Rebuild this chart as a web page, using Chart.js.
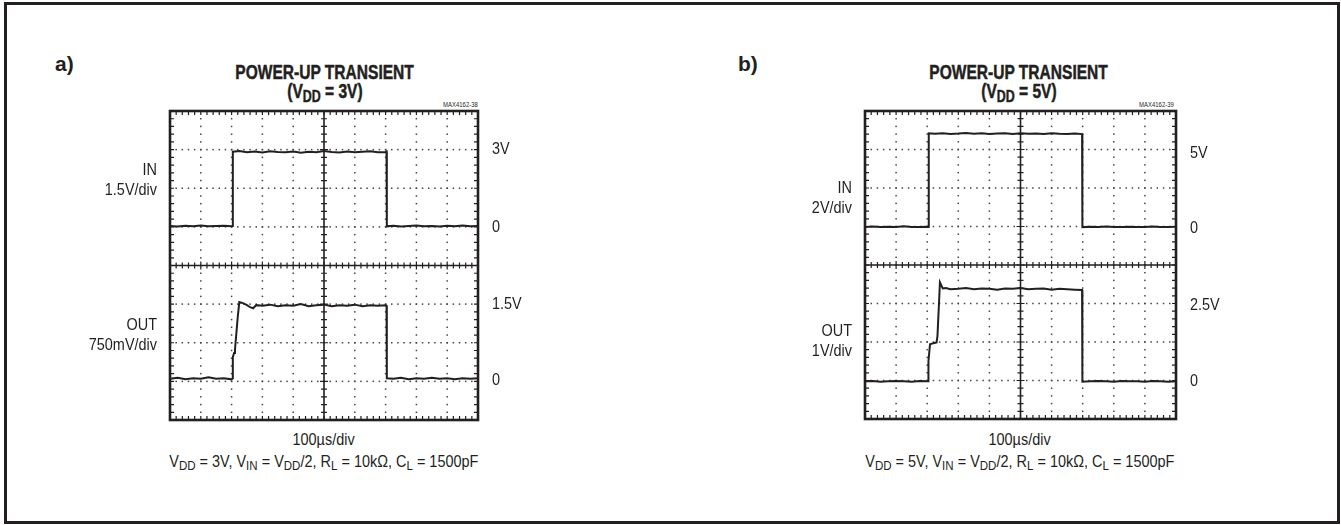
<!DOCTYPE html>
<html><head><meta charset="utf-8">
<script src="https://cdn.jsdelivr.net/npm/chart.js@4.4.1/dist/chart.umd.min.js"></script>
<style>
html,body{margin:0;padding:0;background:#fff;width:1341px;height:525px;overflow:hidden;}
#frame{position:absolute;left:4px;top:2px;width:1336px;height:522px;box-sizing:border-box;border:3px solid #231f20;}
.t{position:absolute;font-family:"Liberation Sans",Arial,sans-serif;color:#231f20;white-space:nowrap;text-align:center;}
.t span{display:inline-block;transform-origin:50% 50%;}
.ttl{font-weight:bold;font-size:21px;line-height:20px;-webkit-text-stroke:0.5px #231f20;}
.ttl span{transform:scaleX(0.74);}
.lbl{font-weight:bold;font-size:21px;line-height:22px;text-align:left;}
.sm{font-size:7px;line-height:8px;}
.sm span{transform:scaleX(0.85);}
.cap{font-size:17px;line-height:18px;}
.cap span{transform:scaleX(0.85);}
.sub{font-size:17px;line-height:18px;}
.sub span{transform:scaleX(0.85);}
sub{font-size:0.8em;vertical-align:-0.25em;line-height:0;}
canvas{position:absolute;}
</style></head>
<body>
<div id="frame"></div>
<div class="t lbl" style="left:55px;top:53px;">a)</div>
<div class="t lbl" style="left:738px;top:53px;">b)</div>
<div class="t ttl" style="left:175px;top:62px;width:300px;"><span>POWER-UP TRANSIENT</span></div>
<div class="t ttl" style="left:175px;top:81px;width:300px;"><span>(V<sub>DD</sub> = 3V)</span></div>
<div class="t ttl" style="left:869px;top:62px;width:300px;"><span>POWER-UP TRANSIENT</span></div>
<div class="t ttl" style="left:869px;top:81px;width:300px;"><span>(V<sub>DD</sub> = 5V)</span></div>
<div class="t sm" style="left:410px;top:101px;width:100px;"><span>MAX4162-38</span></div>
<div class="t sm" style="left:1106px;top:101px;width:100px;"><span>MAX4162-39</span></div>
<div class="t cap" style="left:224px;top:431px;width:200px;"><span>100µs/div</span></div>
<div class="t cap" style="left:920px;top:431px;width:200px;"><span>100µs/div</span></div>
<div class="t sub" style="left:124px;top:453px;width:400px;"><span>V<sub>DD</sub> = 3V, V<sub>IN</sub> = V<sub>DD</sub>/2, R<sub>L</sub> = 10kΩ, C<sub>L</sub> = 1500pF</span></div>
<div class="t sub" style="left:820px;top:453px;width:400px;"><span>V<sub>DD</sub> = 5V, V<sub>IN</sub> = V<sub>DD</sub>/2, R<sub>L</sub> = 10kΩ, C<sub>L</sub> = 1500pF</span></div>
<canvas id="ca" width="500" height="345" style="left:60px;top:95px;"></canvas>
<canvas id="cb" width="500" height="345" style="left:760px;top:95px;"></canvas>
<script>
// ---- Panel a (VDD = 3V): time in divisions (100us/div), volts ----
const aInTime  = [0,0.25,0.5,0.75,1,1.25,1.5,1.75,2.0,2.03, 2.04,2.25,2.5,2.75,3,3.25,3.5,3.75,4,4.25,4.5,4.75,5,5.25,5.5,5.75,6,6.25,6.5,6.75,7.0,7.03, 7.04,7.25,7.5,7.75,8,8.25,8.5,8.75,9,9.25,9.5,9.75,10];
const aInVolts = [0.03,0.01,0.04,0.02,0.05,0.02,0.03,0.04,0.02,0.03, 2.92,2.95,2.90,2.93,2.89,2.94,2.91,2.90,2.93,2.88,2.92,2.90,2.95,2.91,2.89,2.93,2.90,2.92,2.94,2.90,2.91,2.93, 0.02,0.04,0.01,0.03,0.05,0.02,0.03,0.01,0.04,0.02,0.05,0.02,0.03];
const aOutTime  = [0,0.25,0.5,0.75,1,1.25,1.5,1.75,2.0,2.03, 2.04,2.08,2.11,2.15,2.2,2.25, 2.37,2.5,2.6,2.7,2.8, 3,3.25,3.5,3.75,4,4.25,4.5,4.75,5,5.25,5.5,5.75,6,6.25,6.5,6.75,7.0,7.03, 7.04,7.25,7.5,7.75,8,8.25,8.5,8.75,9,9.25,9.5,9.75,10];
const aOutVolts = [0.05,0.07,0.04,0.06,0.05,0.08,0.05,0.06,0.04,0.06, 0.47,0.55,0.62,0.9,1.25,1.54, 1.52,1.48,1.44,1.42,1.48, 1.47,1.49,1.46,1.48,1.47,1.50,1.46,1.48,1.49,1.46,1.48,1.47,1.49,1.46,1.48,1.47,1.48,1.47, 0.06,0.05,0.07,0.04,0.06,0.05,0.07,0.05,0.06,0.04,0.06,0.05,0.06];
const aVoltsPerDiv = [1.5, 0.75];          // IN, OUT
const aLevelLabels = ['3V','0','1.5V','0'];
const aChannelLabels = [['IN','1.5V/div'],['OUT','750mV/div']];

// ---- Panel b (VDD = 5V) ----
const bInTime  = [0,0.25,0.5,0.75,1,1.25,1.5,1.75,2.0,2.04, 2.05,2.25,2.5,2.75,3,3.25,3.5,3.75,4,4.25,4.5,4.75,5,5.25,5.5,5.75,6,6.25,6.5,6.75,6.98, 6.99,7.25,7.5,7.75,8,8.25,8.5,8.75,9,9.25,9.5,9.75,10];
const bInVolts = [-0.02,0.0,-0.03,-0.01,-0.02,0.01,-0.02,-0.03,-0.01,-0.02, 4.84,4.82,4.85,4.81,4.83,4.86,4.82,4.84,4.80,4.83,4.85,4.81,4.84,4.82,4.83,4.80,4.84,4.82,4.81,4.83,4.80, -0.03,-0.01,-0.02,0.0,-0.03,-0.02,-0.01,-0.03,-0.02,0.0,-0.02,-0.03,-0.01];
const bOutTime  = [0,0.25,0.5,0.75,1,1.25,1.5,1.75,2.0,2.03, 2.04,2.09,2.2,2.3,2.33,2.41,2.5,2.6,2.75, 3,3.25,3.5,3.75,4,4.25,4.5,4.75,5,5.25,5.5,5.75,6,6.25,6.5,6.75,6.98, 6.99,7.25,7.5,7.75,8,8.25,8.5,8.75,9,9.25,9.5,9.75,10];
const bOutVolts = [-0.02,-0.01,-0.03,-0.02,-0.01,-0.02,-0.03,-0.01,-0.02,-0.02, 0.5,0.94,0.97,0.99,1.15,2.55,2.39,2.40,2.37, 2.38,2.40,2.37,2.39,2.38,2.36,2.39,2.38,2.40,2.37,2.38,2.39,2.36,2.38,2.37,2.36,2.35, -0.03,-0.02,-0.01,-0.02,-0.03,-0.01,-0.02,-0.02,-0.03,-0.01,-0.02,-0.03,-0.02];
const bVoltsPerDiv = [2, 1];
const bLevelLabels = ['5V','0','2.5V','0'];
const bChannelLabels = [['IN','2V/div'],['OUT','1V/div']];

// screen divisions: 10 horizontal, 8 vertical; IN zero 5 div above bottom, OUT zero 1 div above bottom
const H_DIVS = 10, V_DIVS = 8, IN_ZERO_DIV = 5, OUT_ZERO_DIV = 1;
const FONT = '"Liberation Sans", Arial, sans-serif';
const NARROW = 0.85;
const INK = '#231f20';

const zip = (t, v) => t.map((x, i) => ({x, y: v[i]}));

function narrowText(ctx, s, x, y) {
  ctx.save();
  ctx.translate(x, y);
  ctx.scale(NARROW, 1);
  ctx.fillText(s, 0, 0);
  ctx.restore();
}

const scopeGrid = {
  id: 'scopeGrid',
  beforeDatasetsDraw(chart) {
    const ctx = chart.ctx, xs = chart.scales.x, ys = chart.scales.yDiv, a = chart.chartArea;
    ctx.save();
    ctx.fillStyle = '#444';
    for (let i = 1; i < H_DIVS; i++) {
      if (i === H_DIVS / 2) continue;
      const px = xs.getPixelForValue(i);
      for (let j = 0; j <= V_DIVS * 5; j++) {
        const py = ys.getPixelForValue(j * 0.2);
        ctx.fillRect(px - 0.75, py - 0.75, 1.5, 1.5);
      }
    }
    for (let k = 1; k < V_DIVS; k++) {
      if (k === V_DIVS / 2) continue;
      const py = ys.getPixelForValue(k);
      for (let j = 0; j <= H_DIVS * 5; j++) {
        const px = xs.getPixelForValue(j * 0.2);
        ctx.fillRect(px - 0.75, py - 0.75, 1.5, 1.5);
      }
    }
    ctx.strokeStyle = INK;
    const cx = xs.getPixelForValue(H_DIVS / 2), cy = ys.getPixelForValue(V_DIVS / 2);
    ctx.lineWidth = 1.6;
    ctx.beginPath();
    ctx.moveTo(cx, a.top); ctx.lineTo(cx, a.bottom);
    ctx.moveTo(a.left, cy); ctx.lineTo(a.right, cy);
    ctx.stroke();
    ctx.lineWidth = 1.2;
    ctx.beginPath();
    for (let j = 0; j <= V_DIVS * 5; j++) {
      const py = ys.getPixelForValue(j * 0.2), L = (j % 5 === 0) ? 4 : 3;
      ctx.moveTo(cx - L, py); ctx.lineTo(cx + L, py);
      ctx.moveTo(a.left, py); ctx.lineTo(a.left + 4, py);
      ctx.moveTo(a.right, py); ctx.lineTo(a.right - 4, py);
    }
    for (let j = 0; j <= H_DIVS * 5; j++) {
      const px = xs.getPixelForValue(j * 0.2), L = (j % 5 === 0) ? 4 : 3;
      ctx.moveTo(px, cy - L); ctx.lineTo(px, cy + L);
      ctx.moveTo(px, a.top); ctx.lineTo(px, a.top + 4);
      ctx.moveTo(px, a.bottom); ctx.lineTo(px, a.bottom - 4);
    }
    ctx.stroke();
    ctx.lineWidth = 2.6;
    ctx.strokeRect(a.left, a.top, a.right - a.left, a.bottom - a.top);
    ctx.restore();
  },
  afterDraw(chart, args, opts) {
    const ctx = chart.ctx, ys = chart.scales.yDiv, a = chart.chartArea;
    ctx.save();
    ctx.fillStyle = INK;
    ctx.font = '17px ' + FONT;
    ctx.textBaseline = 'middle';
    ctx.textAlign = 'left';
    opts.levels.forEach((s, i) => narrowText(ctx, s, a.right + 14, ys.getPixelForValue(opts.levelDivs[i])));
    ctx.textAlign = 'right';
    opts.channels.forEach((pair, i) => {
      const c = ys.getPixelForValue(opts.channelDivs[i]);
      narrowText(ctx, pair[0], a.left - 13, c - 10);
      narrowText(ctx, pair[1], a.left - 13, c + 10);
    });
    ctx.restore();
  }
};

function makeScope(id, inT, inV, outT, outV, vpd, levels, levelDivs, channels, channelDivs, pad) {
  const trace = {borderColor: INK, borderWidth: 2, pointRadius: 0, tension: 0, fill: false};
  return new Chart(document.getElementById(id), {
    type: 'line',
    data: {datasets: [
      Object.assign({label: 'IN', data: zip(inT, inV), yAxisID: 'yIn'}, trace),
      Object.assign({label: 'OUT', data: zip(outT, outV), yAxisID: 'yOut'}, trace)
    ]},
    options: {
      responsive: false, animation: false, events: [],
      layout: {padding: pad},
      scales: {
        x: {type: 'linear', min: 0, max: H_DIVS, display: false},
        yDiv: {type: 'linear', min: 0, max: V_DIVS, display: false},
        yIn: {type: 'linear', min: -IN_ZERO_DIV * vpd[0], max: (V_DIVS - IN_ZERO_DIV) * vpd[0], display: false},
        yOut: {type: 'linear', min: -OUT_ZERO_DIV * vpd[1], max: (V_DIVS - OUT_ZERO_DIV) * vpd[1], display: false}
      },
      plugins: {legend: {display: false}, tooltip: {enabled: false},
        scopeGrid: {levels, levelDivs, channels, channelDivs}}
    },
    plugins: [scopeGrid]
  });
}

makeScope('ca', aInTime, aInVolts, aOutTime, aOutVolts, aVoltsPerDiv, aLevelLabels, [7, 5, 3, 1.02],
  aChannelLabels, [6.2, 2.2], {left: 110, top: 16, right: 82, bottom: 20});
makeScope('cb', bInTime, bInVolts, bOutTime, bOutVolts, bVoltsPerDiv, bLevelLabels, [6.9, 4.94, 2.94, 0.98],
  bChannelLabels, [5.72, 2.02], {left: 105, top: 16, right: 84, bottom: 21});
</script>
</body></html>
